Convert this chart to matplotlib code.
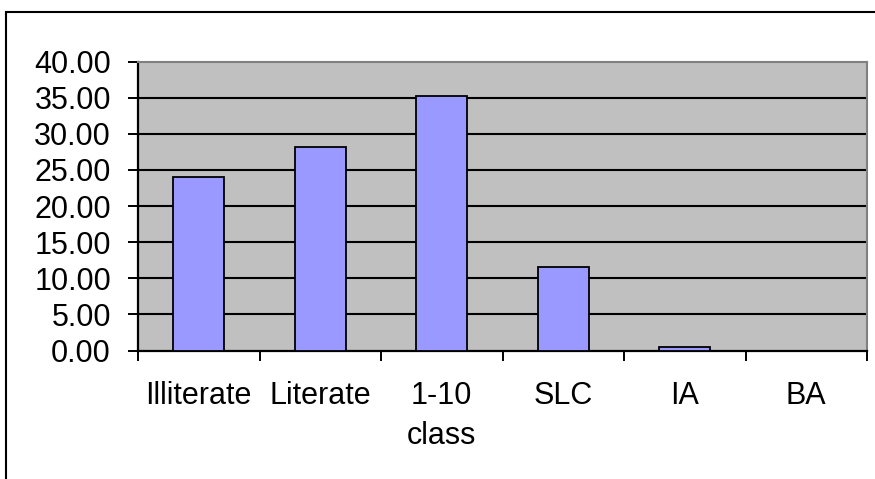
import matplotlib
matplotlib.use("Agg")
import matplotlib.pyplot as plt
from matplotlib.patches import Rectangle
from matplotlib.ticker import FixedLocator, FormatStrFormatter

categories = ["Illiterate", "Literate", "1-10\nclass", "SLC", "IA", "BA"]
values = [24.0, 28.2, 35.2, 11.55, 0.5, 0.0]
y_ticks = [0, 5, 10, 15, 20, 25, 30, 35, 40]

plt.rcParams["font.family"] = ["Liberation Sans", "DejaVu Sans"]

W, H = 875, 479
fig = plt.figure(figsize=(W / 100, H / 100), dpi=100)

# outer chart frame (extends past the right and bottom edges)
fig.add_artist(Rectangle((6 / W, -0.1), 1.2, (H - 11.5) / H + 0.1,
                         transform=fig.transFigure, fill=False,
                         edgecolor="black", linewidth=1.5, zorder=0))

left, right, top, bottom = 138, 867, 61.5, 350.5
ax = fig.add_axes([left / W, (H - bottom) / H, (right - left) / W, (bottom - top) / H])
ax.set_facecolor("#c0c0c0")

x = list(range(len(categories)))
ax.bar(x, values, width=0.42, color="#9999ff", edgecolor="black",
       linewidth=1.3, zorder=3)

ax.set_xlim(-0.5, len(categories) - 0.5)
ax.set_ylim(0, 40)

for yv in y_ticks[1:-1]:
    ax.axhline(yv, color="black", linewidth=1.5, zorder=2)

ax.set_yticks(y_ticks)
ax.yaxis.set_major_formatter(FormatStrFormatter("%.2f"))
ax.tick_params(axis="y", direction="out", length=7.5, width=1.4,
               labelsize=22, pad=12, colors="black")

ax.set_xticks(x)
ax.set_xticklabels(categories, fontsize=22, linespacing=1.45)
ax.tick_params(axis="x", which="major", length=0, pad=22)
ax.xaxis.set_minor_locator(FixedLocator([i - 0.5 for i in range(len(categories) + 1)]))
ax.tick_params(axis="x", which="minor", direction="out", length=7.5, width=1.4)

for side in ("left", "bottom"):
    ax.spines[side].set_color("black")
    ax.spines[side].set_linewidth(1.6)
for side in ("top", "right"):
    ax.spines[side].set_color("#808080")
    ax.spines[side].set_linewidth(1.5)

fig.savefig("out.png", dpi=100)
